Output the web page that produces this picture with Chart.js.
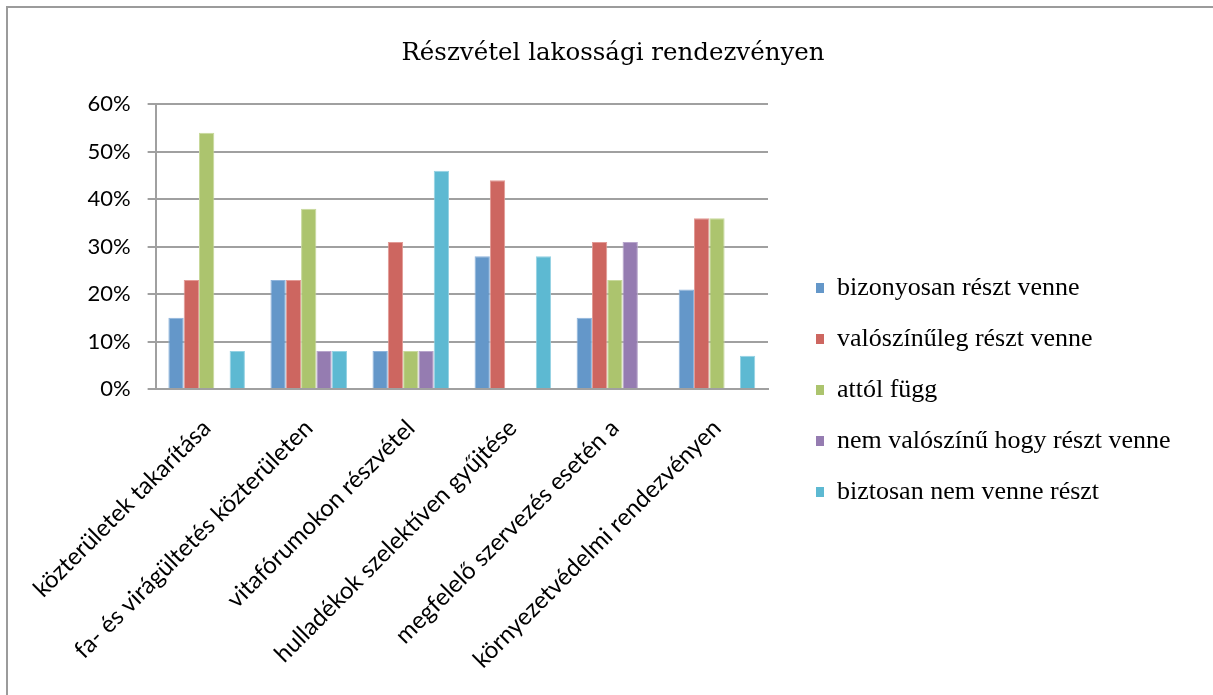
<!DOCTYPE html>
<html>
<head>
<meta charset="utf-8">
<script src="https://cdn.jsdelivr.net/npm/chart.js@4/dist/chart.umd.min.js"></script>
<style>
  html, body { margin: 0; padding: 0; background: #ffffff; overflow: hidden; }
  #frame {
    position: absolute; left: 6px; top: 6px; width: 1400px; height: 900px;
    border-top: 2px solid #9b9b9b; border-left: 2px solid #9b9b9b;
  }
  #wrap { position: absolute; left: 0; top: 0; width: 1213px; height: 695px; }
</style>
</head>
<body>
<div id="frame"></div>
<div id="wrap"><canvas id="chart" width="1213" height="695"></canvas></div>
<script>
// Survey: willingness to take part in community events
const categories = [
  'közterületek takarítása',
  'fa- és virágültetés közterületen',
  'vitafórumokon részvétel',
  'hulladékok szelektíven gyűjtése',
  'megfelelő szervezés esetén a',
  'környezetvédelmi rendezvényen'
];
const seriesNames = [
  'bizonyosan részt venne',
  'valószínűleg részt venne',
  'attól függ',
  'nem valószínű hogy részt venne',
  'biztosan nem venne részt'
];
const bizonyosan   = [0.15, 0.23, 0.08, 0.28, 0.15, 0.21];
const valoszinuleg = [0.23, 0.23, 0.31, 0.44, 0.31, 0.36];
const attolFugg    = [0.54, 0.38, 0.08, 0,    0.23, 0.36];
const nemValoszinu = [0,    0.08, 0.08, 0,    0.31, 0];
const biztosanNem  = [0.08, 0.08, 0.46, 0.28, 0,    0.07];
const yTicks = [0, 0.1, 0.2, 0.3, 0.4, 0.5, 0.6];

const seriesValues = [bizonyosan, valoszinuleg, attolFugg, nemValoszinu, biztosanNem];
const fills = ['#6497c9', '#cd6660', '#acc46e', '#957cb1', '#5db9d2'];
const edges = ['#8fb4dc', '#e29a95', '#c8d99c', '#b7a5cc', '#94d2e3'];

const datasets = seriesNames.map((name, i) => ({
  label: name,
  data: seriesValues[i],
  backgroundColor: fills[i],
  borderColor: edges[i],
  borderWidth: 1,
  categoryPercentage: 0.75,
  barPercentage: 1.0,
  yAxisID: 'y'
}));

const gridGray = '#a0a0a0';

// Legend drawn as a plain vertical list in the space right of the plot
const sideLegend = {
  id: 'sideLegend',
  afterDraw(chart) {
    const ctx = chart.ctx;
    const left = chart.chartArea.right + 48;
    const firstBaseline = 295;
    const step = 51;
    ctx.save();
    ctx.font = '26px "Liberation Serif"';
    ctx.textAlign = 'left';
    ctx.textBaseline = 'alphabetic';
    chart.data.datasets.forEach((ds, i) => {
      const y = firstBaseline + i * step;
      ctx.fillStyle = ds.backgroundColor;
      ctx.fillRect(left, y - 12, 8, 10);
      ctx.fillStyle = '#000000';
      ctx.fillText(ds.label, left + 21, y);
    });
    ctx.restore();
  }
};

new Chart(document.getElementById('chart'), {
  type: 'bar',
  data: { labels: categories, datasets },
  plugins: [sideLegend],
  options: {
    responsive: false,
    animation: false,
    devicePixelRatio: 1,
    layout: { padding: { left: 13, right: 0, top: 0, bottom: 0 } },
    plugins: {
      title: {
        display: true,
        text: 'Részvétel lakossági rendezvényen',
        color: '#000000',
        font: { family: 'DejaVu Serif', size: 24.5, weight: 'normal' },
        padding: { top: 39, bottom: 36 }
      },
      legend: { display: false },
      tooltip: { enabled: false }
    },
    scales: {
      x: {
        afterFit(scale) { scale.height = 306; },
        grid: { display: false, drawTicks: false },
        border: { display: true, color: gridGray, width: 2 },
        ticks: {
          color: '#000000',
          font: { family: 'Lato', size: 24 },
          minRotation: 45,
          maxRotation: 45,
          autoSkip: false,
          padding: 25
        }
      },
      y: {
        min: 0,
        max: 0.6,
        afterFit(scale) { scale.width = 140; },
        afterBuildTicks(scale) { scale.ticks = yTicks.map(v => ({ value: v })); },
        grid: { color: gridGray, lineWidth: 2, tickLength: 8, drawTicks: true },
        border: { display: true, color: gridGray, width: 2 },
        ticks: {
          color: '#000000',
          font: { family: 'Lato', size: 22 },
          padding: 17,
          callback: v => Math.round(v * 100) + '%'
        }
      },
      // empty right-hand axis that reserves room for the legend list
      legendSpace: {
        position: 'right',
        afterFit(scale) { scale.width = 445; },
        grid: { display: false, drawTicks: false },
        border: { display: false },
        ticks: { display: false }
      }
    }
  }
});
</script>
</body>
</html>
